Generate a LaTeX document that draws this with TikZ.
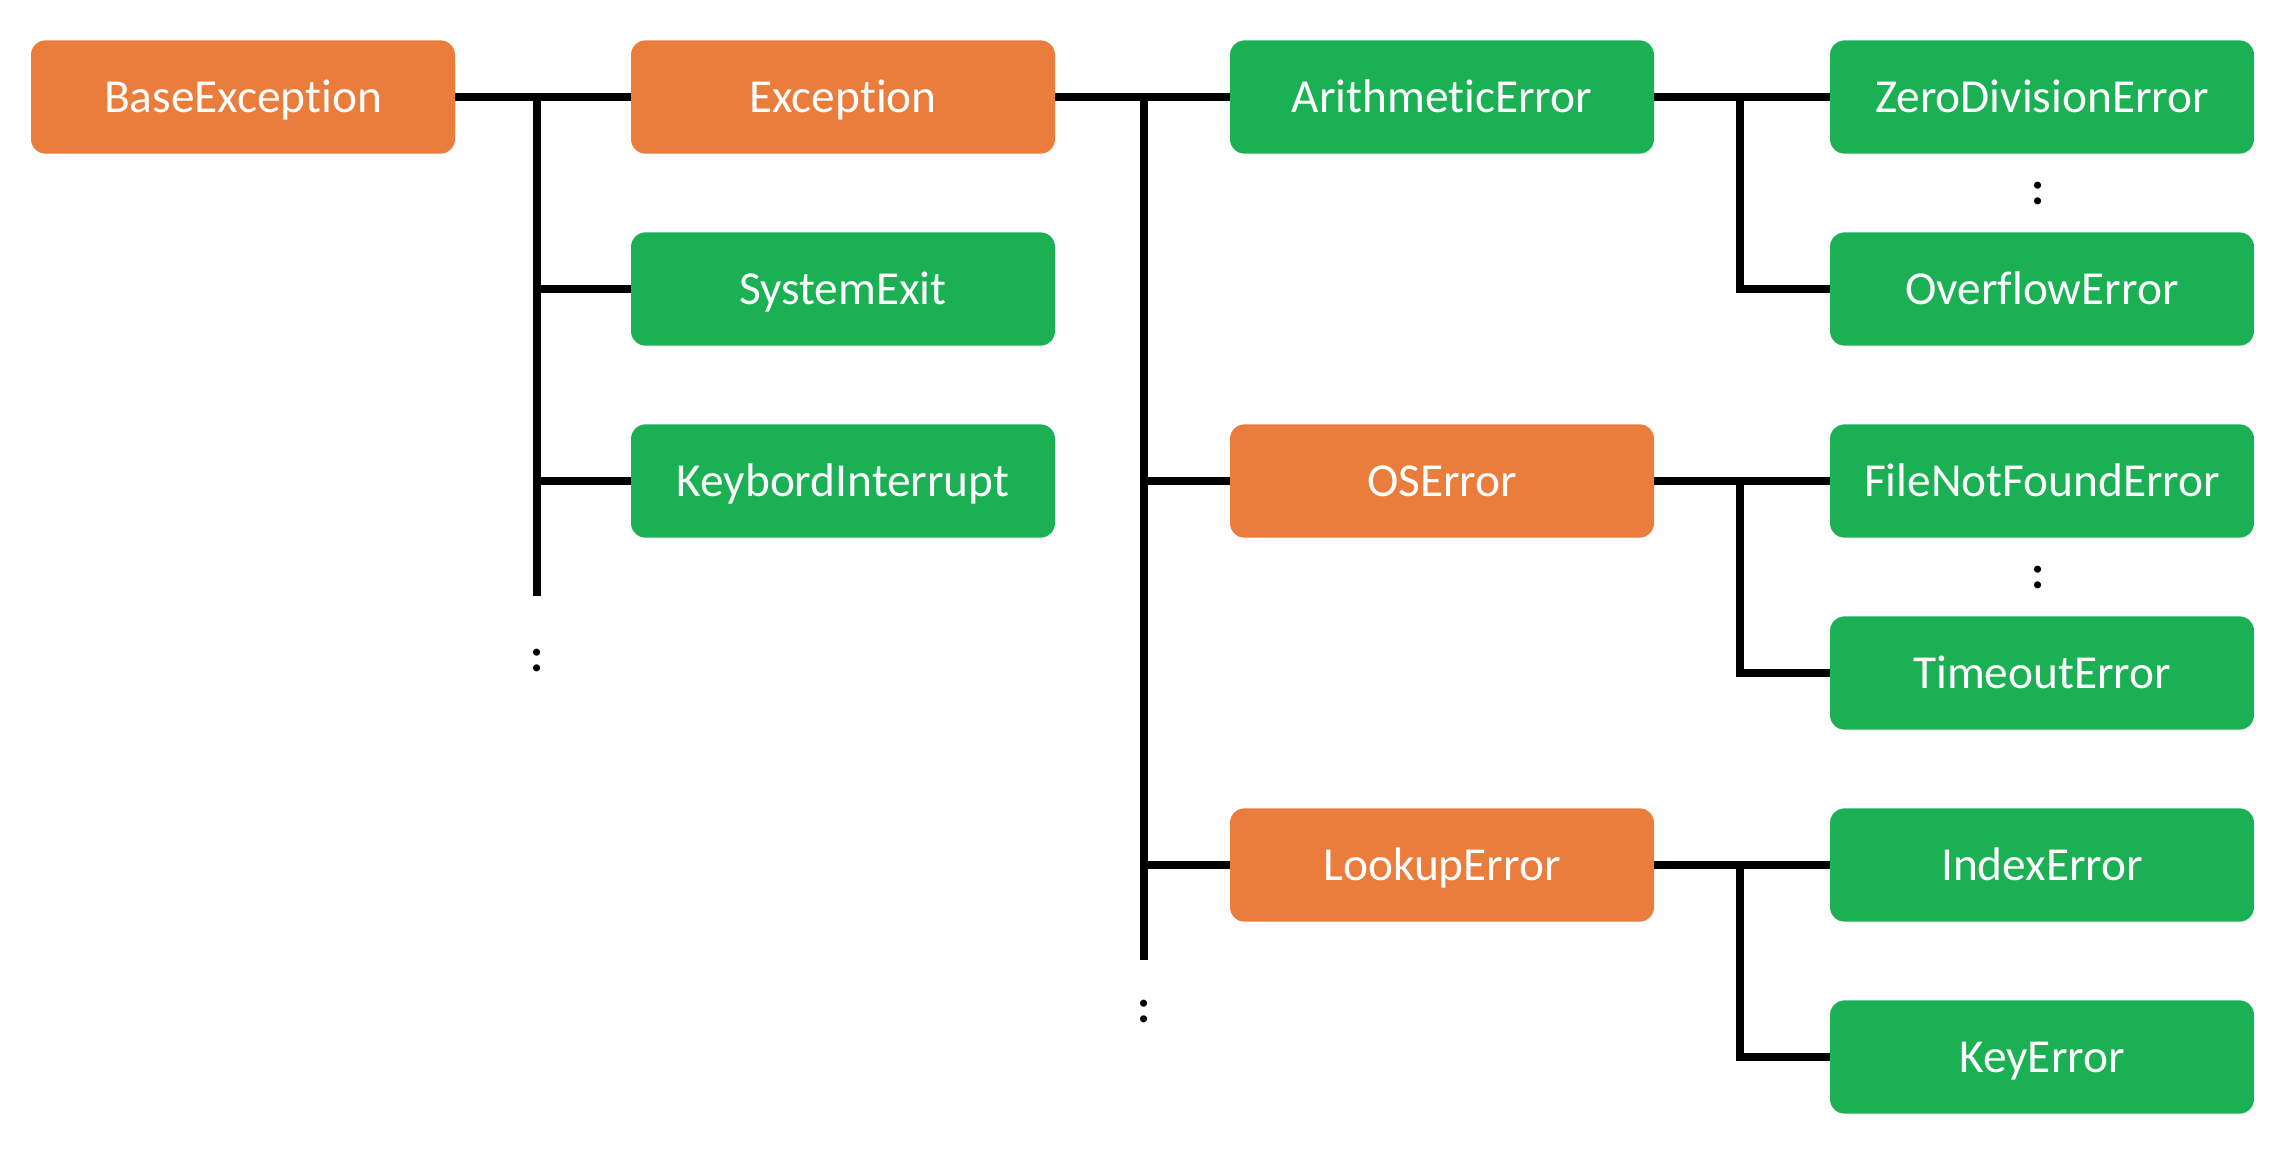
\documentclass[tikz,border=0pt]{standalone}
\usepackage{fontspec}
\setmainfont{Carlito}[Ligatures=NoCommon]
\usepackage{xcolor}
\definecolor{boxorange}{RGB}{234,125,60}
\definecolor{boxgreen}{RGB}{28,176,85}
\tikzset{
  classbox/.style={rounded corners=11pt, minimum width=318pt, minimum height=85pt, inner sep=0pt, text height=30pt, text depth=7pt, text=white, font=\fontsize{35.5}{42}\selectfont},
  baseclass/.style={classbox, fill=boxorange},
  leafclass/.style={classbox, fill=boxgreen},
  tree/.style={line width=6pt},
  more/.style={inner sep=0pt, font=\fontsize{35.5}{42}\selectfont\bfseries}
}

\begin{document}
\begin{tikzpicture}[x=0.75pt,y=0.75pt,yscale=-1,xscale=1]
\useasboundingbox (0,0) rectangle (2294,1154);

%Shape: Rounded Rectangle
\node [baseclass] (base) at (243,97) {BaseException};
\node [baseclass] (exc) at (843,97) {Exception};
\node [leafclass] (sysexit) at (843,289) {SystemExit};
\node [leafclass] (keyint) at (843,481) {KeybordInterrupt};
%Shape: Rounded Rectangle
\node [leafclass] (arith) at (1442,97) {ArithmeticError};
\node [baseclass] (oserr) at (1442,481) {OSError};
\node [baseclass] (lookup) at (1442,865) {LookupError};
%Shape: Rounded Rectangle
\node [leafclass] (zerodiv) at (2042,97) {ZeroDivisionError};
\node [leafclass] (overflow) at (2042,289) {OverflowError};
\node [leafclass] (filenf) at (2042,481) {FileNotFoundError};
\node [leafclass] (timeout) at (2042,673) {TimeoutError};
\node [leafclass] (index) at (2042,865) {IndexError};
\node [leafclass] (keyerr) at (2042,1057) {KeyError};

% Text Node
\node [more] (basemore) at (537,660) {:};
\node [more] (excmore) at (1144,1011) {:};
\node [more] (arithmore) at (2038,193) {:};
\node [more] (osmore) at (2038,577) {:};

%Straight Lines
\coordinate (basetrunk) at (537,97);
\coordinate (baseend) at (537,596);
\draw [tree] (base.east) -- (exc.west);
\draw [tree] (basetrunk) -- (baseend);
\draw [tree] (basetrunk |- sysexit) -- (sysexit.west);
\draw [tree] (basetrunk |- keyint) -- (keyint.west);
%Straight Lines
\coordinate (exctrunk) at (1144,97);
\coordinate (excend) at (1144,960);
\draw [tree] (exc.east) -- (arith.west);
\draw [tree] (exctrunk) -- (excend);
\draw [tree] (exctrunk |- oserr) -- (oserr.west);
\draw [tree] (exctrunk |- lookup) -- (lookup.west);
%Straight Lines
\coordinate (arithtrunk) at (1740,97);
\coordinate (ostrunk) at (1740,481);
\coordinate (lookuptrunk) at (1740,865);
\draw [tree] (arith.east) -- (zerodiv.west);
\draw [tree] (arithtrunk) |- (overflow.west);
\draw [tree] (oserr.east) -- (filenf.west);
\draw [tree] (ostrunk) |- (timeout.west);
\draw [tree] (lookup.east) -- (index.west);
\draw [tree] (lookuptrunk) |- (keyerr.west);

\end{tikzpicture}
\end{document}
